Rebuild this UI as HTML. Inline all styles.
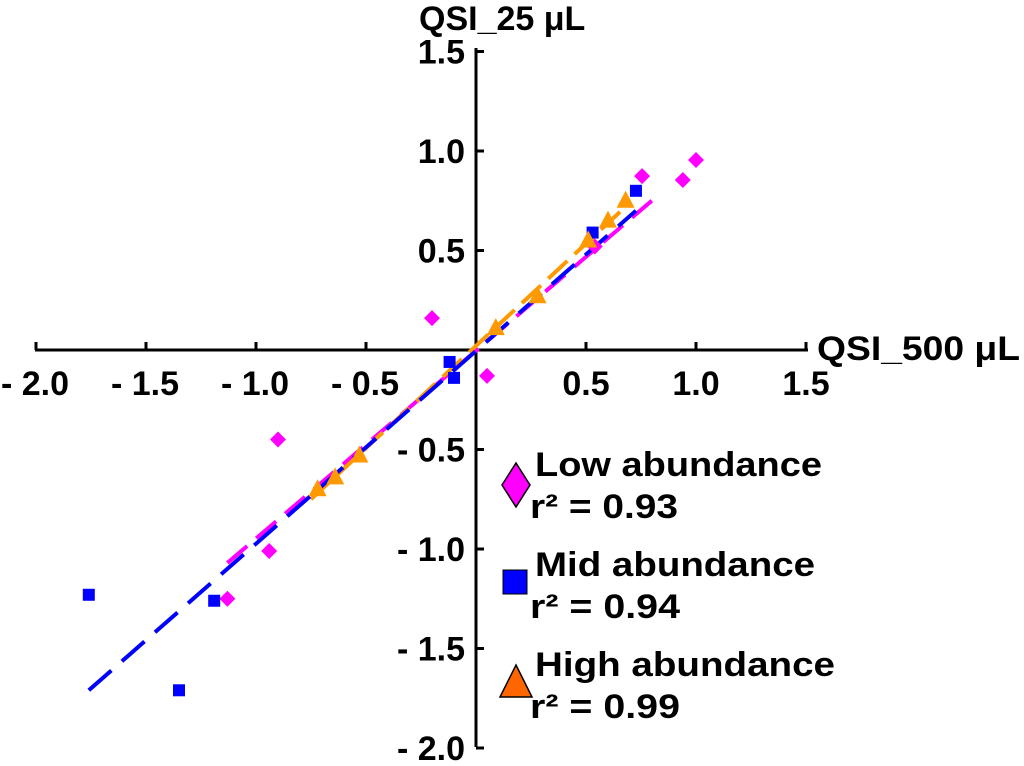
<!DOCTYPE html>
<html><head><meta charset="utf-8"><style>
body{margin:0;background:#fff}
svg text{font-family:"Liberation Sans",Arial,sans-serif;font-weight:bold;fill:#000}
</style></head><body>
<svg id="chart" width="1024" height="761" xmlns="http://www.w3.org/2000/svg">
<g id="axes"></g>
<g id="lines"></g>
<g id="marks"></g>
<g id="legend"></g>
</svg>
<script>
const xTicks=[-2.0,-1.5,-1.0,-0.5,0.5,1.0,1.5];
const yTicks=[1.5,1.0,0.5,-0.5,-1.0,-1.5,-2.0];
const lowX=[0.755,0.94,1.0,-0.2,0.05,-0.9,-0.94,-1.13,0.54];
const lowY=[0.874,0.854,0.955,0.16,-0.13,-0.45,-1.01,-1.25,0.52];
const midX=[0.727,0.53,-0.12,-0.1,-1.76,-1.19,-1.35];
const midY=[0.80,0.59,-0.06,-0.14,-1.23,-1.26,-1.71];
const highX=[0.68,0.60,0.51,0.28,0.09,-0.53,-0.64,-0.72];
const highY=[0.75,0.65,0.55,0.27,0.11,-0.53,-0.64,-0.70];
const lowFit=[-1.13,-1.07,0.82,0.77];
const midFit=[-1.76,-1.71,0.727,0.70];
const highFit=[-0.75,-0.75,0.68,0.72];
const X=v=>476+220*v, Y=v=>350-199*v;
const NS='http://www.w3.org/2000/svg';
function mk(p,t,a){const e=document.createElementNS(NS,t);for(const k in a)e.setAttribute(k,a[k]);p.appendChild(e);return e;}
const ax=document.getElementById('axes');
let e=mk(ax,'line',{x1:35,y1:350,x2:808,y2:350,stroke:'#000','stroke-width':3});


e=mk(ax,'line',{x1:476,y1:48,x2:476,y2:747,stroke:'#000','stroke-width':3});


xTicks.forEach(v=>{
 e=mk(ax,'line',{x1:X(v),y1:350,x2:X(v),y2:342,stroke:'#000','stroke-width':3});
 
 
 const t=mk(ax,'text',{x:X(v)+(v<0?-1:0),y:395,'font-size':34,'text-anchor':'middle'});
 t.textContent=(v<0?'- ':'')+Math.abs(v).toFixed(1);
 
 
});
yTicks.forEach(v=>{
 e=mk(ax,'line',{x1:476,y1:Y(v),x2:484,y2:Y(v),stroke:'#000','stroke-width':3});
 
 
 const t=mk(ax,'text',{x:465,y:Y(v)+12,'font-size':34,'text-anchor':'end'});
 t.textContent=(v<0?'- ':'')+Math.abs(v).toFixed(1);
 
 
});
e=mk(ax,'text',{x:419,y:30,'font-size':34});e.textContent='QSI_25 μL';


e=mk(ax,'text',{x:817,y:360,'font-size':34,textLength:203,lengthAdjust:'spacingAndGlyphs'});e.textContent='QSI_500 μL';


const ln=document.getElementById('lines');
function fit(f,c,n,dash){const l=mk(ln,'line',{x1:X(f[0]),y1:Y(f[1]),x2:X(f[2]),y2:Y(f[3]),stroke:c,'stroke-width':4,'stroke-dasharray':dash});
 
 }
fit(lowFit,'#ff00ff','low-fit-line','26 12');
fit(highFit,'#ff9900','high-fit-line','26 10');
fit(midFit,'#0000ff','mid-fit-line','30 14');
const mg=document.getElementById('marks');
lowX.forEach((v,i)=>{const x=X(v),y=Y(lowY[i]);
 const p=mk(mg,'polygon',{points:`${x},${y-8} ${x+8},${y} ${x},${y+8} ${x-8},${y}`,fill:'#ff00ff'});
 
 });
midX.forEach((v,i)=>{const x=X(v),y=Y(midY[i]);
 const p=mk(mg,'rect',{x:x-6,y:y-6,width:12,height:12,fill:'#0000ff'});
 
 });
highX.forEach((v,i)=>{const x=X(v),y=Y(highY[i]);
 const p=mk(mg,'polygon',{points:`${x},${y-10} ${x+9},${y+7} ${x-9},${y+7}`,fill:'#ff9900'});
 
 });
const lg=document.getElementById('legend');
const items=[['Low abundance','r² = 0.93','d',287,148],['Mid abundance','r² = 0.94','s',280,150],['High abundance','r² = 0.99','t',300,150]];
items.forEach((it,i)=>{const y0=475+i*100;let m;
 if(it[2]=='d')m=mk(lg,'polygon',{points:`516,${y0-12} 530,${y0+10} 516,${y0+32} 502,${y0+10}`,fill:'#ff00ff',stroke:'#000','stroke-width':1.5});
 else if(it[2]=='s')m=mk(lg,'rect',{x:503,y:y0-5,width:24,height:24,fill:'#0000ff',stroke:'#000','stroke-width':1});
 else m=mk(lg,'polygon',{points:`516,${y0-10} 532,${y0+22} 500,${y0+22}`,fill:'#ff6600',stroke:'#000','stroke-width':1.5});
 
 
 let t=mk(lg,'text',{x:535,y:y0+1,'font-size':34,textLength:it[3],lengthAdjust:'spacingAndGlyphs'});t.textContent=it[0];
 
 
 t=mk(lg,'text',{x:530,y:y0+43,'font-size':34,textLength:it[4],lengthAdjust:'spacingAndGlyphs'});t.textContent=it[1];
 
 
});
</script>
</body></html>
